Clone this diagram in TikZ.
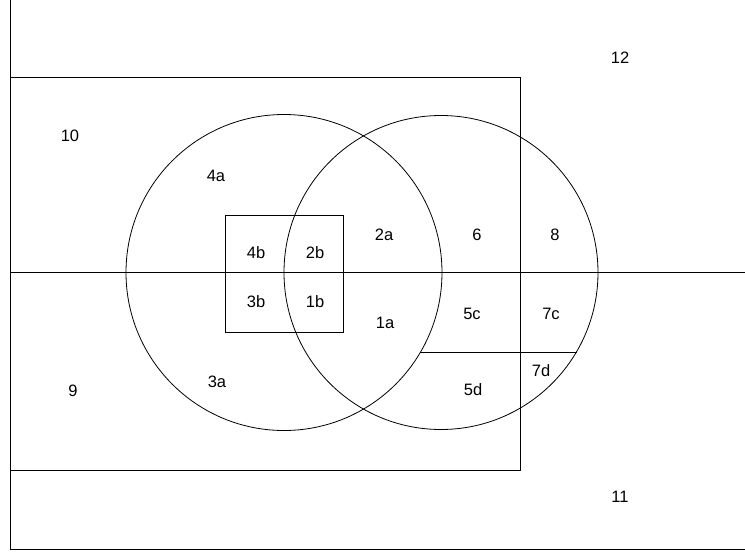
\documentclass[tikz,border=0pt]{standalone}
\usepackage{fontspec}
\setmainfont{Liberation Sans}
\begin{document}
\begin{tikzpicture}[x=1pt,y=-1pt,
  ln/.style={line width=0.8pt,draw=black},
  lab/.style={font=\fontsize{16.5}{18}\selectfont,inner sep=0pt}]
\useasboundingbox (0,0) rectangle (745,552);
% outer frame (left and bottom)
\coordinate (otl) at (10,0);
\coordinate (obl) at (10,549.5);
\coordinate (obr) at (745,549.5);
\draw[ln] (otl) -- (obl) -- (obr);
% inner rectangle
\coordinate (itl) at (10,77.5);
\coordinate (ibr) at (520,470.5);
\draw[ln] (itl) rectangle (ibr);
% horizontal axis
\coordinate (hl) at (10,272.5);
\coordinate (hr) at (745,272.5);
\draw[ln] (hl) -- (hr);
% circles
\coordinate (cl) at (284,272.5);
\coordinate (cr) at (441,272.5);
\draw[ln] (cl) circle[radius=158];
\draw[ln] (cr) circle[radius=157];
% small square
\coordinate (stl) at (225,215);
\coordinate (sbr) at (343,332.5);
\draw[ln] (stl) rectangle (sbr);
% chord
\coordinate (chl) at (420,352.5);
\coordinate (chr) at (577,352.5);
\draw[ln] (chl) -- (chr);
% labels
\node[lab] (l12) at (620,58) {12};
\node[lab] (l10) at (70,136) {10};
\node[lab] (l4a) at (216,176) {4a};
\node[lab] (l4b) at (256,253) {4b};
\node[lab] (l2b) at (315,253) {2b};
\node[lab] (l2a) at (384,235) {2a};
\node[lab] (l6) at (477,235) {6};
\node[lab] (l8) at (555,235) {8};
\node[lab] (l3b) at (256,302) {3b};
\node[lab] (l1b) at (315,302) {1b};
\node[lab] (l1a) at (385,323) {1a};
\node[lab] (l5c) at (472,314) {5c};
\node[lab] (l7c) at (551,314) {7c};
\node[lab] (l7d) at (541,371) {7d};
\node[lab] (l5d) at (473,390) {5d};
\node[lab] (l9) at (73,391) {9};
\node[lab] (l3a) at (217,382) {3a};
\node[lab] (l11) at (620,497) {11};
\end{tikzpicture}
\end{document}
